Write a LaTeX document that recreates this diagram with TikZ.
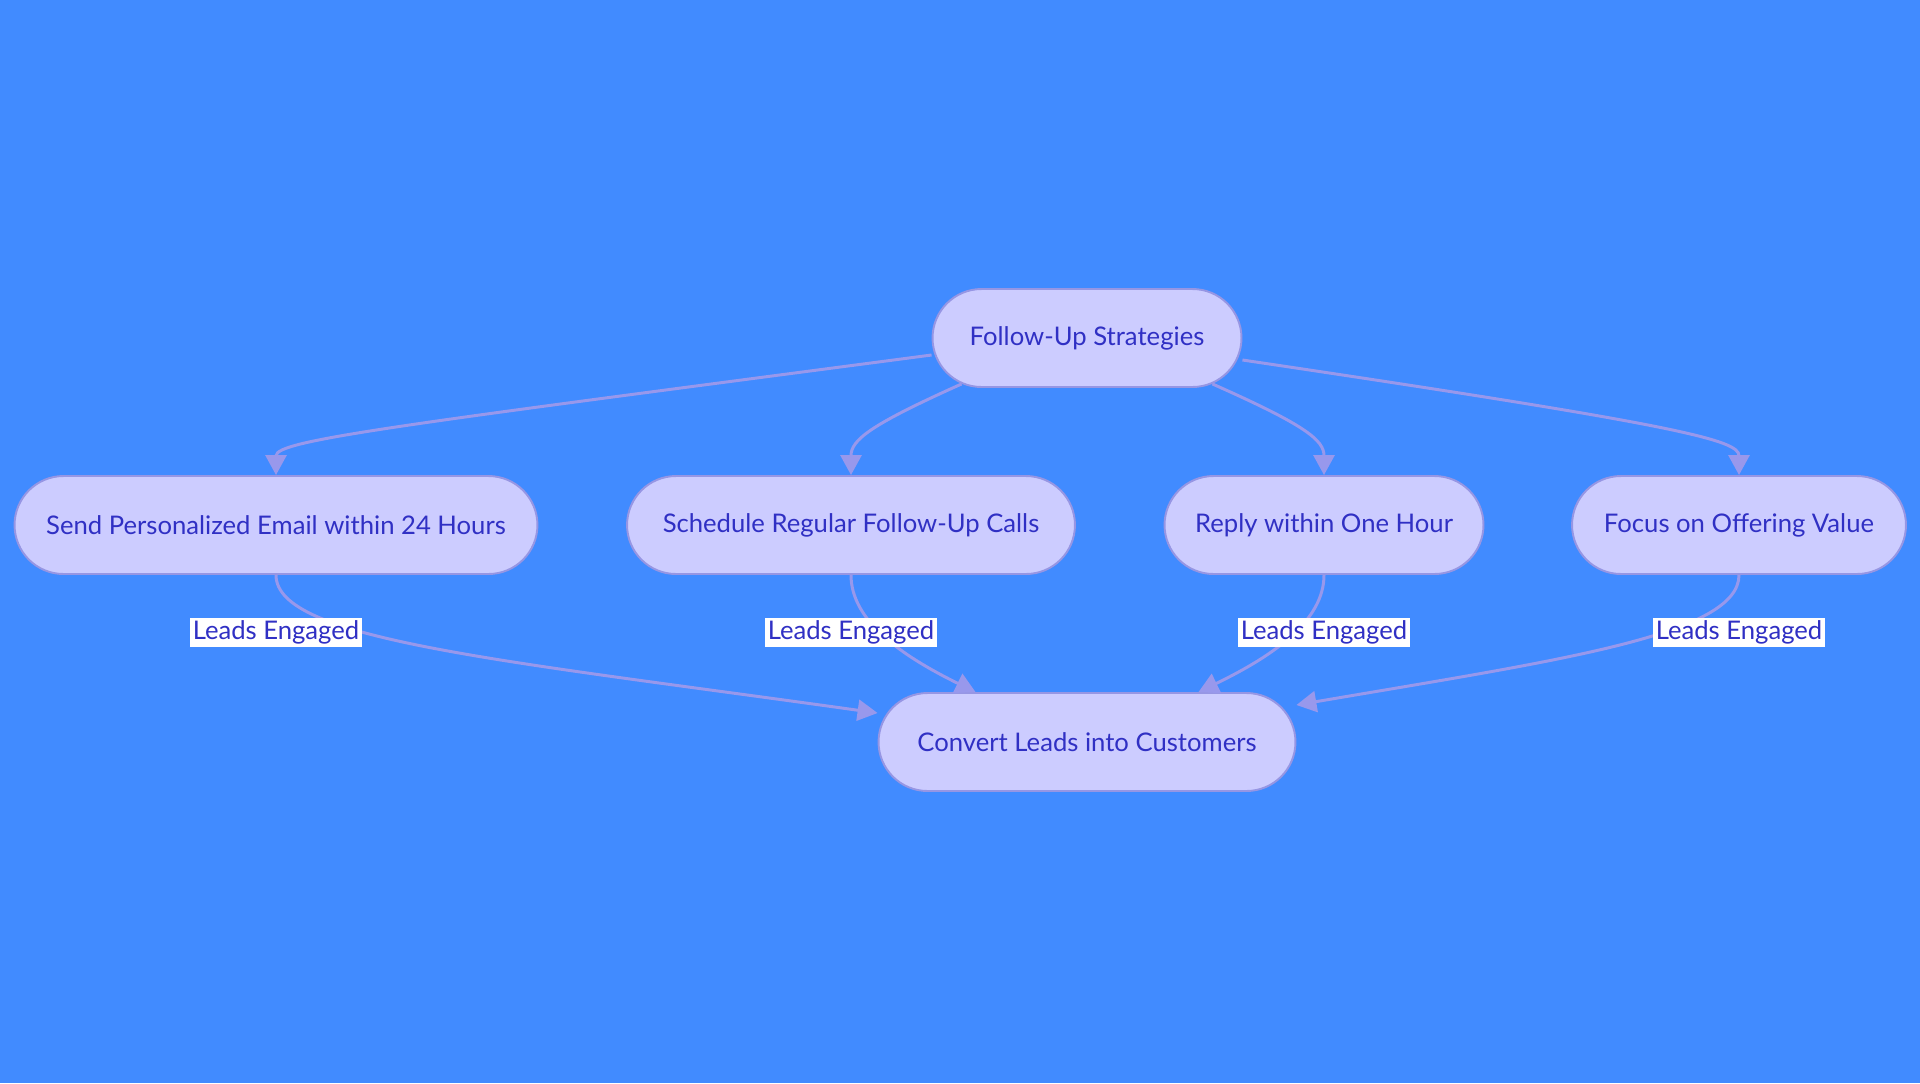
\documentclass[tikz,border=0pt]{standalone}
\usepackage{fontspec}
\setmainfont{Lato}
\usepackage{tikz}
\usetikzlibrary{arrows.meta, positioning}
\usepackage{xcolor}
\definecolor{bgblue}{RGB}{65,139,255}
\definecolor{nodefill}{RGB}{204,204,255}
\definecolor{nodeline}{RGB}{150,150,228}
\definecolor{edgecol}{RGB}{152,152,236}
\definecolor{textcol}{RGB}{48,48,196}
\tikzset{
    stadium/.style={rectangle, draw=nodeline, fill=nodefill, line width=1.1pt, rounded corners=0.98cm, minimum height=1.96cm, text=textcol, font=\fontsize{14.6}{17}\selectfont},
    edgelabel/.style={rectangle, fill=white, inner sep=1.5pt, minimum height=0.58cm, text=textcol, font=\fontsize{14.6}{17}\selectfont},
    arrow/.style={-{Triangle[length=0.4cm, width=0.42cm]}, line width=1.7pt, draw=edgecol}
}

\begin{document}
\begin{tikzpicture}[x=0.02cm, y=-0.02cm]
        % background
        \fill[bgblue] (0,0) rectangle (1920,1083);

        % Nodes
        \node[stadium, minimum width=6.18cm] (strat) at (1087,338) {Follow-Up Strategies};
        \node[stadium, minimum width=10.46cm] (email) at (276,525) {Send Personalized Email within 24 Hours};
        \node[stadium, minimum width=8.96cm] (calls) at (851,525) {Schedule Regular Follow-Up Calls};
        \node[stadium, minimum width=6.38cm] (reply) at (1324,525) {Reply within One Hour};
        \node[stadium, minimum width=6.68cm] (value) at (1739,525) {Focus on Offering Value};
        \node[stadium, minimum width=8.34cm] (convert) at (1087,742) {Convert Leads into Customers};

        % Strategies to actions
        \draw[arrow] ([yshift=-0.34cm]strat.west) .. controls (400,425) and (276,440) .. (email.north);
        \draw[arrow] ([xshift=0.6cm, yshift=0.08cm]strat.south west) .. controls (870,425) and (851,440) .. (calls.north);
        \draw[arrow] ([xshift=-0.6cm, yshift=0.08cm]strat.south east) .. controls (1305,425) and (1324,440) .. (reply.north);
        \draw[arrow] ([yshift=-0.44cm]strat.east) .. controls (1680,425) and (1739,440) .. (value.north);

        % Actions to conversion
        \draw[arrow] (email.south) .. controls (276,640) and (500,660) .. ([yshift=0.58cm]convert.west);
        \draw[arrow] (calls.south) .. controls (851,620) and (900,655) .. ([xshift=1.96cm]convert.north west);
        \draw[arrow] (reply.south) .. controls (1324,620) and (1275,655) .. ([xshift=-1.96cm]convert.north east);
        \draw[arrow] (value.south) .. controls (1739,635) and (1560,660) .. ([yshift=0.74cm]convert.east);

        % Edge labels
        \node[edgelabel] (lbl1) at (276,632) {Leads Engaged};
        \node[edgelabel] (lbl2) at (851,632) {Leads Engaged};
        \node[edgelabel] (lbl3) at (1324,632) {Leads Engaged};
        \node[edgelabel] (lbl4) at (1739,632) {Leads Engaged};
\end{tikzpicture}
\end{document}
